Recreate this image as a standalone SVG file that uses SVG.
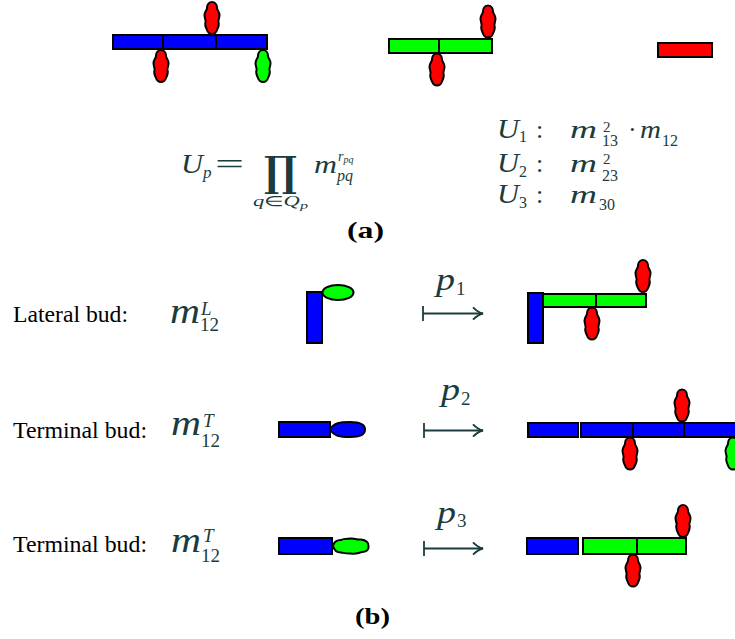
<svg xmlns="http://www.w3.org/2000/svg" xmlns:xlink="http://www.w3.org/1999/xlink" width="735" height="639" viewBox="0 0 735 639">
<style>
.b{fill:#0000ff;stroke:#000;stroke-width:2}
.g{fill:#00ff00;stroke:#000;stroke-width:2}
.r{fill:#ff0000;stroke:#000;stroke-width:2}
.bud{stroke:#000;stroke-width:2}
.lbl{font-family:"Liberation Serif","Times New Roman",serif;fill:#000}
.cap{font-family:"Liberation Serif","Times New Roman",serif;font-weight:bold;fill:#000}
.mi{font-family:"Liberation Serif","Times New Roman",serif;font-style:italic;fill:#1a3c3c}
.mu{font-family:"Liberation Serif","Times New Roman",serif;fill:#1a3c3c}
.arr{stroke:#1a3c3c;stroke-width:1.8;fill:none}
</style>
<defs>
<path id="budV" d="M0,-16 C4,-16 5,-12 5,-10 C5,-8 7.5,-6 7.5,-3 C7.5,0 6,2 6.5,4 C7.5,7 6,10 5,12 C4,15 2,16 0,16 C-2,16 -4,15 -5,12 C-6,10 -7.5,7 -6.5,4 C-6,2 -7.5,0 -7.5,-3 C-7.5,-6 -5,-8 -5,-10 C-5,-12 -4,-16 0,-16 Z"/>
<marker id="head" viewBox="0 0 12 14" refX="11" refY="7" markerWidth="12" markerHeight="14" markerUnits="userSpaceOnUse" orient="auto">
<path d="M1,0.8 Q6,6 11,7 Q6,8 1,13.2" fill="none" stroke="#1a3c3c" stroke-width="1.8"/>
</marker>
</defs>

<!-- (a) top row -->
<g id="a-plant1">
<rect class="b" x="113" y="35" width="50" height="14"/>
<rect class="b" x="163" y="35" width="53" height="14"/>
<rect class="b" x="216" y="35" width="51" height="14"/>
<use href="#budV" xlink:href="#budV" class="bud" fill="#ff0000" transform="translate(212,18)"/>
<use href="#budV" xlink:href="#budV" class="bud" fill="#ff0000" transform="translate(161,66)"/>
<use href="#budV" xlink:href="#budV" class="bud" fill="#00ff00" transform="translate(263,66)"/>
</g>
<g id="a-plant2">
<rect class="g" x="389" y="39" width="50" height="14"/>
<rect class="g" x="439" y="39" width="53" height="14"/>
<use href="#budV" xlink:href="#budV" class="bud" fill="#ff0000" transform="translate(488,21.5)"/>
<use href="#budV" xlink:href="#budV" class="bud" fill="#ff0000" transform="translate(437,69.5)"/>
</g>
<g id="a-plant3">
<rect class="r" x="658" y="43" width="54" height="14"/>
</g>

<!-- (a) formulas -->
<g id="formula-left">
<text class="mi" x="181" y="173" font-size="27" textLength="22" lengthAdjust="spacingAndGlyphs">U</text>
<text class="mi" x="203" y="178" font-size="17">p</text>
<text class="mu" x="215" y="174" font-size="30" textLength="29" lengthAdjust="spacingAndGlyphs">=</text>
<text x="264" y="186" font-family="DejaVu Serif,serif" font-weight="bold" font-size="42" fill="#1a3c3c" textLength="33" lengthAdjust="spacingAndGlyphs">∏</text>
<text class="mi" x="253" y="206" font-size="14" textLength="55" lengthAdjust="spacingAndGlyphs">q<tspan font-style="normal">∈</tspan>Q<tspan font-size="10" dy="3">p</tspan></text>
<text class="mi" x="314" y="173" font-size="26" textLength="23" lengthAdjust="spacingAndGlyphs">m</text>
<text class="mi" x="338" y="161" font-size="14">r<tspan font-size="10" dy="2">pq</tspan></text>
<text class="mi" x="337" y="181" font-size="16">pq</text>
</g>
<g id="formula-right">
<text class="mi" x="497" y="138" font-size="27" textLength="22" lengthAdjust="spacingAndGlyphs">U</text>
<text class="mu" x="519" y="142" font-size="16">1</text>
<text class="mu" x="536" y="138" font-size="26">:</text>
<text class="mi" x="570" y="138" font-size="26" textLength="27" lengthAdjust="spacingAndGlyphs">m</text>
<text class="mu" x="603" y="132" font-size="15">2</text>
<text class="mu" x="602" y="146" font-size="16">13</text>
<text class="mu" x="628" y="138" font-size="26">·</text>
<text class="mi" x="640" y="138" font-size="26" textLength="21" lengthAdjust="spacingAndGlyphs">m</text>
<text class="mu" x="662" y="146" font-size="16">12</text>

<text class="mi" x="497" y="172" font-size="27" textLength="22" lengthAdjust="spacingAndGlyphs">U</text>
<text class="mu" x="519" y="177" font-size="16">2</text>
<text class="mu" x="536" y="172" font-size="26">:</text>
<text class="mi" x="570" y="172" font-size="26" textLength="27" lengthAdjust="spacingAndGlyphs">m</text>
<text class="mu" x="603" y="164" font-size="15">2</text>
<text class="mu" x="602" y="181" font-size="16">23</text>

<text class="mi" x="497" y="203" font-size="27" textLength="22" lengthAdjust="spacingAndGlyphs">U</text>
<text class="mu" x="519" y="208" font-size="16">3</text>
<text class="mu" x="536" y="203" font-size="26">:</text>
<text class="mi" x="570" y="203" font-size="26" textLength="27" lengthAdjust="spacingAndGlyphs">m</text>
<text class="mu" x="599" y="210" font-size="16">30</text>
</g>
<text class="cap" x="347" y="238" font-size="24" textLength="37" lengthAdjust="spacingAndGlyphs">(a)</text>

<!-- (b) row 1 -->
<text class="lbl" x="13" y="322" font-size="24" textLength="115" lengthAdjust="spacingAndGlyphs">Lateral bud:</text>
<g id="b1-label">
<text class="mi" x="170" y="323" font-size="35" textLength="30" lengthAdjust="spacingAndGlyphs">m</text>
<text class="mi" x="201" y="315" font-size="19">L</text>
<text class="mu" x="200" y="331" font-size="19">12</text>
</g>
<g id="b1-source">
<rect class="b" x="307" y="292" width="15" height="51"/>
<ellipse class="g" cx="338" cy="292.5" rx="15.5" ry="7.5"/>
</g>
<g id="b1-result">
<rect class="b" x="528" y="293" width="15" height="50"/>
<rect class="g" x="543" y="294" width="53" height="13"/>
<rect class="g" x="596" y="294" width="50" height="13"/>
<use href="#budV" xlink:href="#budV" class="bud" fill="#ff0000" transform="translate(643,276)"/>
<use href="#budV" xlink:href="#budV" class="bud" fill="#ff0000" transform="translate(592,323.5)"/>
</g>

<!-- (b) row 2 -->
<text class="lbl" x="13" y="438" font-size="24" textLength="134" lengthAdjust="spacingAndGlyphs">Terminal bud:</text>
<g id="b2-label">
<text class="mi" x="171" y="435" font-size="35" textLength="30" lengthAdjust="spacingAndGlyphs">m</text>
<text class="mi" x="203" y="427" font-size="19">T</text>
<text class="mu" x="201" y="447" font-size="19">12</text>
</g>
<g id="b2-source">
<rect class="b" x="279" y="422" width="51" height="15"/>
<path class="b" d="M330,429.5 C334,423 340,422 350,422 C360,422 365,425 365,429.5 C365,434 360,437 350,437 C340,437 334,436 330,429.5 Z"/>
</g>
<g id="b2-result">
<rect class="b" x="528" y="423" width="50" height="14"/>
<rect class="b" x="581" y="423" width="52" height="14"/>
<rect class="b" x="633" y="423" width="51" height="14"/>
<rect class="b" x="684" y="423" width="54" height="14"/>
<use href="#budV" xlink:href="#budV" class="bud" fill="#ff0000" transform="translate(682,405.5)"/>
<use href="#budV" xlink:href="#budV" class="bud" fill="#ff0000" transform="translate(630,453.5)"/>
<use href="#budV" xlink:href="#budV" class="bud" fill="#00ff00" transform="translate(733,453.5)"/>
</g>

<!-- (b) row 3 -->
<text class="lbl" x="13" y="552" font-size="24" textLength="134" lengthAdjust="spacingAndGlyphs">Terminal bud:</text>
<g id="b3-label">
<text class="mi" x="171" y="552" font-size="35" textLength="30" lengthAdjust="spacingAndGlyphs">m</text>
<text class="mi" x="203" y="542" font-size="19">T</text>
<text class="mu" x="201" y="562" font-size="19">12</text>
</g>
<g id="b3-source">
<rect class="b" x="279" y="538" width="53" height="16"/>
<path class="g" d="M333,546 C334,541 338,540 341,540 C344,538 348,539 351,538.5 C354,538 357,540 361,539.5 C366,540 369,543 368.5,546 C369,550 366,552 362,552 C358,553 355,554.5 351,553.5 C347,554 344,553 341,552.5 C337,552.5 334,550 333,546 Z"/>
</g>
<g id="b3-result">
<rect class="b" x="527" y="538" width="51" height="16"/>
<rect class="g" x="583" y="538" width="54" height="16"/>
<rect class="g" x="637" y="538" width="49" height="16"/>
<use href="#budV" xlink:href="#budV" class="bud" fill="#ff0000" transform="translate(683,521)"/>
<use href="#budV" xlink:href="#budV" class="bud" fill="#ff0000" transform="translate(633,570.5)"/>
</g>

<!-- connectors: production arrows -->
<g id="connectors">
<g id="arrow-p1">
<line class="arr" x1="423" y1="306" x2="423" y2="321"/>
<line class="arr" x1="423" y1="313.5" x2="483" y2="313.5" marker-end="url(#head)"/>
<text class="mi" x="436" y="290" font-size="31" textLength="19" lengthAdjust="spacingAndGlyphs">p</text>
<text class="mu" x="456" y="295" font-size="19">1</text>
</g>
<g id="arrow-p2">
<line class="arr" x1="424" y1="423" x2="424" y2="438"/>
<line class="arr" x1="424" y1="430.5" x2="483" y2="430.5" marker-end="url(#head)"/>
<text class="mi" x="441" y="400" font-size="31" textLength="19" lengthAdjust="spacingAndGlyphs">p</text>
<text class="mu" x="461" y="405" font-size="19">2</text>
</g>
<g id="arrow-p3">
<line class="arr" x1="424" y1="541" x2="424" y2="556"/>
<line class="arr" x1="424" y1="548.5" x2="483" y2="548.5" marker-end="url(#head)"/>
<text class="mi" x="437" y="523" font-size="31" textLength="19" lengthAdjust="spacingAndGlyphs">p</text>
<text class="mu" x="457" y="527" font-size="19">3</text>
</g>
</g>

<text class="cap" x="355" y="624" font-size="24" textLength="35" lengthAdjust="spacingAndGlyphs">(b)</text>
</svg>
